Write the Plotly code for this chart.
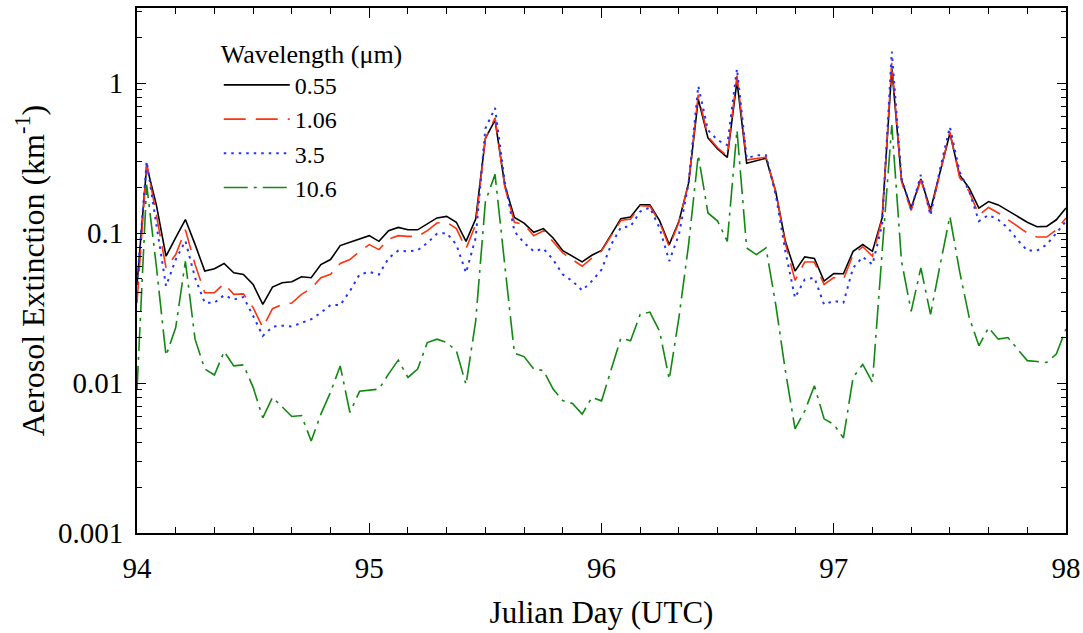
import plotly.graph_objects as go

# Hourly samples from day 94 to 98 (97 points)
days = [94 + i / 24 for i in range(97)]

ext_055 = [0.045, 0.28, 0.154, 0.070, 0.093, 0.123, 0.084, 0.0557, 0.0577, 0.0626,
           0.0543, 0.0529, 0.0454, 0.0334, 0.0436, 0.0466, 0.0473, 0.0511, 0.0503, 0.0616,
           0.0665, 0.0824, 0.0867, 0.0912, 0.096, 0.088, 0.1036, 0.109, 0.105, 0.105,
           0.115, 0.126, 0.129, 0.118, 0.088, 0.124, 0.427, 0.565, 0.209, 0.127,
           0.1165, 0.101, 0.107, 0.0927, 0.0763, 0.070, 0.0642, 0.0711, 0.0765, 0.0975,
           0.1245, 0.1277, 0.154, 0.154, 0.121, 0.0837, 0.1196, 0.215, 0.779, 0.431,
           0.363, 0.319, 1.03, 0.292, 0.304, 0.315, 0.189, 0.088, 0.0557, 0.0693,
           0.0676, 0.0478, 0.0536, 0.0535, 0.0755, 0.0837, 0.0755, 0.126, 1.25, 0.226,
           0.1466, 0.229, 0.143, 0.256, 0.461, 0.244, 0.199, 0.1466, 0.162, 0.154,
           0.141, 0.129, 0.118, 0.110, 0.1107, 0.1225, 0.147]

ext_106 = [0.034, 0.29, 0.132, 0.0586, 0.0718, 0.105, 0.0616, 0.040, 0.040, 0.0459,
           0.039, 0.0393, 0.0318, 0.0234, 0.0313, 0.0334, 0.0341, 0.039, 0.0427, 0.0503,
           0.053, 0.0626, 0.0665, 0.0755, 0.0837, 0.0775, 0.0912, 0.096, 0.095, 0.095,
           0.1036, 0.1165, 0.118, 0.107, 0.0786, 0.114, 0.427, 0.586, 0.204, 0.118,
           0.114, 0.096, 0.1036, 0.088, 0.0737, 0.0665, 0.060, 0.068, 0.0758, 0.096,
           0.121, 0.124, 0.152, 0.151, 0.118, 0.081, 0.118, 0.214, 0.837, 0.44,
           0.37, 0.325, 1.12, 0.307, 0.315, 0.32, 0.19, 0.085, 0.0483, 0.064,
           0.064, 0.0454, 0.0505, 0.049, 0.0718, 0.081, 0.070, 0.124, 1.38, 0.22,
           0.141, 0.226, 0.136, 0.25, 0.473, 0.235, 0.189, 0.132, 0.148, 0.136,
           0.1225, 0.1107, 0.100, 0.094, 0.094, 0.105, 0.126]

ext_35 = [0.045, 0.30, 0.114, 0.0443, 0.0665, 0.0886, 0.0503, 0.0343, 0.0343, 0.0385,
          0.036, 0.0374, 0.028, 0.0206, 0.0237, 0.0241, 0.0238, 0.0253, 0.0266, 0.0294,
          0.0331, 0.0331, 0.041, 0.0529, 0.055, 0.0529, 0.068, 0.0763, 0.0755, 0.0767,
          0.086, 0.0988, 0.100, 0.0837, 0.0543, 0.093, 0.497, 0.682, 0.22, 0.1026,
          0.086, 0.0755, 0.0786, 0.0665, 0.0529, 0.0478, 0.0414, 0.0478, 0.0569, 0.0837,
          0.109, 0.1107, 0.139, 0.148, 0.108, 0.065, 0.0975, 0.215, 0.955, 0.485,
          0.416, 0.386, 1.245, 0.315, 0.33, 0.33, 0.18, 0.0755, 0.037, 0.049,
          0.0503, 0.0334, 0.0352, 0.0343, 0.0586, 0.0693, 0.0616, 0.1137, 1.62, 0.2317,
          0.143, 0.244, 0.131, 0.27, 0.51, 0.257, 0.189, 0.12, 0.132, 0.1225,
          0.108, 0.090, 0.0763, 0.0763, 0.0837, 0.100, 0.120]

ext_106um = [0.009, 0.21, 0.06, 0.0152, 0.0234, 0.0648, 0.0196, 0.0124, 0.0113, 0.0162,
             0.013, 0.0132, 0.00936, 0.00586, 0.00803, 0.0069, 0.00598, 0.00607, 0.0041, 0.0062,
             0.00867, 0.013, 0.00636, 0.0088, 0.0090, 0.0091, 0.0115, 0.0142, 0.0109, 0.0124,
             0.0186, 0.0196, 0.0186, 0.0164, 0.00975, 0.0259, 0.162, 0.246, 0.0616, 0.0158,
             0.015, 0.0124, 0.0121, 0.0091, 0.00763, 0.0073, 0.0062, 0.0080, 0.0076, 0.0124,
             0.0199, 0.0191, 0.0287, 0.0297, 0.0222, 0.0106, 0.0273, 0.0837, 0.331, 0.136,
             0.12, 0.088, 0.485, 0.0795, 0.0718, 0.0795, 0.0334, 0.0121, 0.00495, 0.0065,
             0.0096, 0.00577, 0.0053, 0.0043, 0.0109, 0.0133, 0.0101, 0.075, 0.524, 0.065,
             0.030, 0.0586, 0.0287, 0.0616, 0.129, 0.0557, 0.0273, 0.0177, 0.0234, 0.0196,
             0.0201, 0.0168, 0.0141, 0.0139, 0.0137, 0.0156, 0.0229]

series_names = ["0.55", "1.06", "3.5", "10.6"]
x_tick_vals = [94, 95, 96, 97, 98]
y_tick_vals = [0.001, 0.01, 0.1, 1]
y_tick_text = ["0.001", "0.01", "0.1", "1"]

styles = [
    dict(color="#000000", width=1.6, dash="solid"),
    dict(color="#FF3311", width=1.6, dash="22px,10px"),
    dict(color="#2233FF", width=2.0, dash="2.5px,5px"),
    dict(color="#118811", width=1.6, dash="24px,6px,3px,6px"),
]

fig = go.Figure()
for name, vals, st in zip(series_names, [ext_055, ext_106, ext_35, ext_106um], styles):
    fig.add_trace(go.Scatter(x=days, y=vals, mode="lines", name=name, line=st))

font = "Liberation Serif, Times New Roman, serif"
fig.update_layout(
    width=1083, height=633,
    margin=dict(l=137, r=17, t=8, b=100),
    paper_bgcolor="white", plot_bgcolor="white",
    font=dict(family=font, color="black", size=24),
    showlegend=True,
    legend=dict(
        x=0.088, y=0.96, xanchor="left", yanchor="top",
        bgcolor="rgba(0,0,0,0)",
        title=dict(text="Wavelength (\u03bcm)\u00a0\u00a0\u00a0", font=dict(size=26, family=font)),
        font=dict(size=24, family=font),
        itemwidth=66,
        tracegroupgap=0,
    ),
)
fig.update_xaxes(
    range=[94, 98], tickvals=x_tick_vals, ticktext=[str(v) for v in x_tick_vals],
    ticks="inside", ticklen=10, tickwidth=1.3, tickcolor="black",
    minor=dict(dtick=1 / 6, tick0=94, ticks="inside", ticklen=6, tickwidth=1.2, tickcolor="black"),
    showline=True, linecolor="black", linewidth=2, mirror="allticks",
    showgrid=False, zeroline=False, automargin=False,
    tickfont=dict(size=29, family=font), ticklabelstandoff=8,
    title=dict(text="Julian Day (UTC)", font=dict(size=31, family=font), standoff=19),
)
fig.update_yaxes(
    type="log", range=[-3, 0.5], tickvals=y_tick_vals, ticktext=y_tick_text,
    ticks="inside", ticklen=9, tickwidth=1.3, tickcolor="black",
    minor=dict(ticks="inside", ticklen=5, tickwidth=1.2, tickcolor="black",
               tickvals=[m * 10 ** e for e in range(-3, 1) for m in range(2, 10)] + [2, 3]),
    showline=True, linecolor="black", linewidth=2, mirror="allticks",
    showgrid=False, zeroline=False, automargin=False,
    tickfont=dict(size=29, family=font), ticklabelstandoff=6,
    title=dict(text="Aerosol Extinction (km<sup>-1</sup>)", font=dict(size=32, family=font), standoff=4),
)
fig.write_html(
    "out.html",
    config={"displayModeBar": False},
    post_script="document.body.style.margin='0';document.body.style.overflow='hidden';",
)
